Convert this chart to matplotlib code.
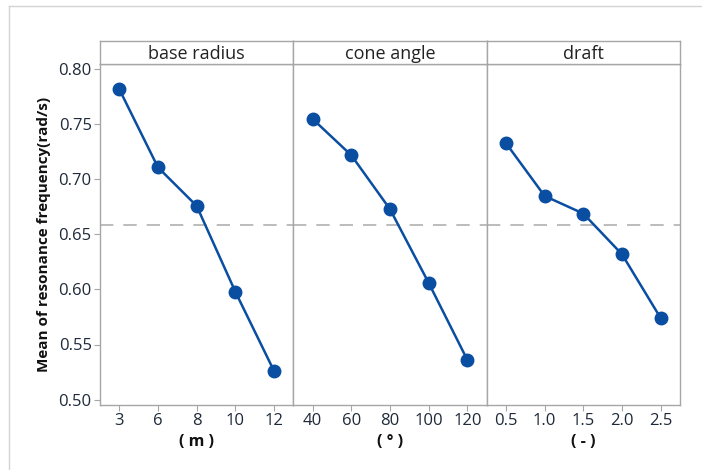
import numpy as np
import matplotlib.pyplot as plt
from matplotlib.lines import Line2D

# data
factors = ["base radius", "cone angle", "draft"]
units = ["( m )", "( ° )", "( - )"]
levels_radius = ["3", "6", "8", "10", "12"]
levels_angle = ["40", "60", "80", "100", "120"]
levels_draft = ["0.5", "1.0", "1.5", "2.0", "2.5"]
mean_radius = [0.782, 0.711, 0.676, 0.598, 0.526]
mean_angle = [0.755, 0.722, 0.673, 0.606, 0.536]
mean_draft = [0.733, 0.685, 0.669, 0.632, 0.574]
grand_mean = 0.659

levels = [levels_radius, levels_angle, levels_draft]
means = [mean_radius, mean_angle, mean_draft]

plt.rcParams["font.family"] = ["Open Sans", "DejaVu Sans"]
blue = "#0a4ea2"
grey = "#a6a6a6"
txt = "#1e2a3a"

fig = plt.figure(figsize=(7.02, 4.70), dpi=100)
# outer frame (top and left only visible)
fig.lines.append(Line2D([9 / 702, 1], [1 - 6 / 470, 1 - 6 / 470], transform=fig.transFigure,
                        color="#d4d4d4", lw=1))
fig.lines.append(Line2D([9 / 702, 9 / 702], [0, 1 - 6 / 470], transform=fig.transFigure,
                        color="#d4d4d4", lw=1))

left, right = 100 / 702, 680 / 702
bottom, top = 1 - 405 / 470, 1 - 64 / 470
strip_h = 23 / 470
w = (right - left) / 3

for i in range(3):
    ax = fig.add_axes([left + i * w, bottom, w, top - bottom])
    x = np.arange(len(levels[i]))
    ax.axhline(grand_mean, color="#b0b0b0", lw=1.2, ls=(0, (8, 6)), zorder=1)
    ax.plot(x, means[i], color=blue, lw=1.8, marker="o", ms=9, zorder=3)
    ax.set_xlim(-0.5, 4.5)
    ax.set_ylim(0.495, 0.805)
    ax.set_xticks(x)
    ax.set_xticklabels(levels[i], fontsize=12, color=txt)
    ax.set_xlabel(units[i], fontsize=11.5, fontweight="bold", labelpad=3, color="#111111")
    ax.set_yticks(np.arange(0.50, 0.801, 0.05))
    if i == 0:
        ax.set_yticklabels([f"{v:.2f}" for v in np.arange(0.50, 0.801, 0.05)],
                           fontsize=12, color=txt)
        ax.set_ylabel("Mean of resonance frequency(rad/s)", fontsize=11,
                      fontweight="bold", labelpad=5, color="#111111")
    else:
        ax.tick_params(axis="y", left=False, labelleft=False)
    for s in ax.spines.values():
        s.set_color(grey)
        s.set_linewidth(1)
    ax.tick_params(axis="both", color=grey, length=4, pad=2)

    # strip header
    sax = fig.add_axes([left + i * w, top, w, strip_h])
    sax.set_xticks([])
    sax.set_yticks([])
    for s in sax.spines.values():
        s.set_color(grey)
        s.set_linewidth(1)
    sax.text(0.5, 0.45, factors[i], ha="center", va="center", fontsize=13,
             color="#222222", transform=sax.transAxes)

fig.savefig("out.png", dpi=100)
